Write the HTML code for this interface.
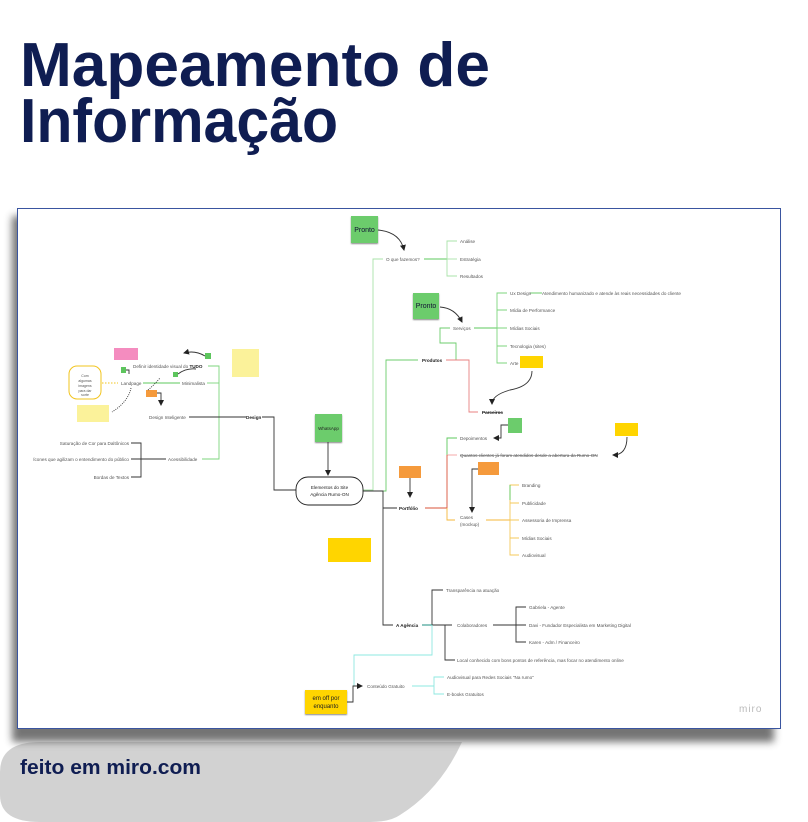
<!DOCTYPE html>
<html><head><meta charset="utf-8"><style>
html,body{margin:0;padding:0;background:#fff;width:808px;height:822px;overflow:hidden;font-family:"Liberation Sans",sans-serif}
svg{position:absolute;left:0;top:0}
</style></head><body>
<svg width="808" height="822" viewBox="0 0 808 822" xmlns="http://www.w3.org/2000/svg" font-family="Liberation Sans, sans-serif">
<defs>
<filter id="sh" x="-10%" y="-10%" width="120%" height="130%"><feGaussianBlur stdDeviation="4"/></filter>
<filter id="ss" x="-20%" y="-20%" width="140%" height="160%"><feGaussianBlur stdDeviation="0.8"/></filter>
<marker id="ar" markerWidth="6" markerHeight="6" refX="5" refY="3" orient="auto" markerUnits="userSpaceOnUse"><path d="M0,0 L6,3 L0,6Z" fill="#222"/></marker>
</defs>
<path d="M0,772 Q0,742 40,742 L462,742 Q440,790 400,815 Q390,822 370,822 L40,822 Q0,822 0,795Z" fill="#d2d2d2"/>
<text x="20" y="86" font-size="62" font-weight="bold" fill="#0f1d52" textLength="470" lengthAdjust="spacingAndGlyphs">Mapeamento de</text>
<text x="20" y="142" font-size="62" font-weight="bold" fill="#0f1d52" textLength="318" lengthAdjust="spacingAndGlyphs">Informação</text>
<text x="20" y="774" font-size="20" font-weight="bold" fill="#0f1d52" textLength="181" lengthAdjust="spacingAndGlyphs">feito em miro.com</text>
<rect x="12" y="216" width="762" height="526" fill="#666" filter="url(#sh)" opacity="0.9"/>
<rect x="17.5" y="208.5" width="763" height="520" fill="#fff" stroke="#3a55a0" stroke-width="1"/>
<g font-size="4.6" fill="#555">
<rect x="351" y="217" width="27" height="27" fill="#888" filter="url(#ss)"/>
<rect x="351" y="216" width="27" height="27" fill="#6ccc6c"/><text x="364.5" y="232" font-size="7" text-anchor="middle" fill="#113">Pronto</text>
<rect x="413" y="294" width="26" height="26" fill="#888" filter="url(#ss)"/>
<rect x="413" y="293" width="26" height="26" fill="#6ccc6c"/><text x="426" y="308" font-size="7" text-anchor="middle" fill="#113">Pronto</text>
<rect x="315" y="415" width="27" height="28" fill="#888" filter="url(#ss)"/>
<rect x="315" y="414" width="27" height="28" fill="#6ccc6c"/><text x="328.5" y="430" font-size="4.5" text-anchor="middle" fill="#222">WhatsApp</text>
<rect x="114" y="348" width="24" height="12" fill="#f48cbf"/>
<rect x="121" y="367" width="5" height="6" fill="#5dc55d"/>
<rect x="205" y="353" width="6" height="6" fill="#5dc55d"/>
<rect x="173" y="372" width="5" height="5" fill="#5dc55d"/>
<rect x="146" y="390" width="11" height="7" fill="#f59a3c"/>
<rect x="77" y="405" width="32" height="17" fill="#fbf29a"/>
<rect x="232" y="349" width="27" height="28" fill="#fbf29a"/>
<rect x="69" y="366" width="32" height="33" rx="8" fill="#fff" stroke="#f2c41e" stroke-width="1"/>
<text x="85" y="377" font-size="3.5" text-anchor="middle">Com</text><text x="85" y="382" font-size="3.5" text-anchor="middle">algumas</text><text x="85" y="387" font-size="3.5" text-anchor="middle">imagens</text><text x="85" y="392" font-size="3.5" text-anchor="middle">para dar</text><text x="85" y="396" font-size="3.5" text-anchor="middle">sorte</text>
<rect x="520" y="356" width="23" height="12" fill="#ffd500"/>
<rect x="508" y="418" width="14" height="15" fill="#6ccc6c"/>
<rect x="615" y="423" width="23" height="13" fill="#ffd500"/>
<rect x="399" y="466" width="22" height="12" fill="#f59a3c"/>
<rect x="478" y="462" width="21" height="13" fill="#f59a3c"/>
<rect x="328" y="538" width="43" height="24" fill="#ffd500"/>
<rect x="305" y="691" width="42" height="24" fill="#888" filter="url(#ss)"/>
<rect x="305" y="690" width="42" height="24" fill="#ffd500"/>
<text x="326" y="700" font-size="6" text-anchor="middle" fill="#222">em off por</text><text x="326" y="708" font-size="6" text-anchor="middle" fill="#222">enquanto</text>
<g fill="none" stroke-width="0.9">
<path d="M208,366 H219 V459 H202" stroke="#7cd67c"/>
<path d="M143,383 H180" stroke="#5cc85c"/>
<path d="M207,383 H219" stroke="#7cd67c"/>
<path d="M189,417 H246" stroke="#333"/>
<path d="M262,417 H274 V490 H296" stroke="#333"/>
<path d="M131,443 H141 V477 H131 M131,459 H166" stroke="#333"/>
<path d="M102,383 H118" stroke="#f2c41e" stroke-dasharray="1.5,1.5"/>
<path d="M131,388 Q128,402 112,412" stroke="#333" stroke-dasharray="1,1.2"/>
<path d="M148,390 Q154,385 160,378" stroke="#333" stroke-dasharray="1,1.2"/>
<path d="M157,393 H161 V405" stroke="#333" marker-end="url(#ar)"/>
<path d="M178,374 Q186,368 196,369" stroke="#333"/>
<path d="M205,356 Q195,350 184,353" stroke="#333" marker-end="url(#ar)"/>
<path d="M126,370 H129 V374" stroke="#333"/>
<path d="M363,490 H373 V259 H383" stroke="#a8e3a8"/>
<path d="M363,491 H386 V360 H418" stroke="#6ccc6c"/>
<path d="M424,259 H447" stroke="#5cc85c"/>
<path d="M457,241 H447 V276 H457" stroke="#a8e3a8"/>
<path d="M447,259 H457" stroke="#a8e3a8"/>
<path d="M378,230 Q400,232 404,250" stroke="#333" marker-end="url(#ar)"/>
<path d="M440,307 Q455,308 462,322" stroke="#333" marker-end="url(#ar)"/>
<path d="M474,328 H497" stroke="#5cc85c"/>
<path d="M507,293 H497 V363 H507 M497,310 H507 M497,328 H507 M497,346 H507" stroke="#7cd67c"/>
<path d="M530,293 H542" stroke="#5cc85c"/>
<path d="M450,328 H440 V343 H456 V360" stroke="#6ccc6c"/>
<path d="M446,360 H469 V412 H478" stroke="#e88080"/>
<path d="M532,371 Q532,386 510,390 Q492,395 492,404" stroke="#333" marker-end="url(#ar)"/>
<path d="M508,425 H501 V438 H494" stroke="#333" marker-end="url(#ar)"/>
<path d="M627,437 Q627,455 613,455" stroke="#333" marker-end="url(#ar)"/>
<path d="M457,438 H447 V455" stroke="#5cc85c"/>
<path d="M447,455 H457" stroke="#f3a0a0"/>
<path d="M447,455 V508 H425" stroke="#d9533a"/>
<path d="M447,508 V520 H455" stroke="#f4b73a"/>
<path d="M486,520 H510" stroke="#f4b73a"/>
<path d="M519,485 H510 V555 H519 M510,503 H519 M510,520 H519 M510,538 H519" stroke="#f4c85a"/>
<path d="M510,485 V500" stroke="#5cc85c"/>
<path d="M478,469 H472 V512" stroke="#333" marker-end="url(#ar)"/>
<path d="M410,478 V497" stroke="#333" marker-end="url(#ar)"/>
<path d="M328,442 V475" stroke="#333" marker-end="url(#ar)"/>
<path d="M363,491 H383 V625 H393 M383,508 H397" stroke="#333"/>
<path d="M422,625 H452 M443,590 H432 V625 M445,625 V660 H455" stroke="#333"/>
<path d="M422,625 H432" stroke="#1a9a8a"/>
<path d="M493,625 H516 M526,607 H516 V642 H526 M516,625 H526" stroke="#333"/>
<path d="M432,625 V655 H354 V686 H362" stroke="#8ee8e0"/>
<path d="M347,702 H353 V686 H362" stroke="#333" marker-end="url(#ar)"/>
<path d="M412,686 H434 M444,677 H434 V694 H444" stroke="#8ee8e0"/>
</g>
<rect x="296" y="477" width="67" height="28" rx="12" fill="#fff" stroke="#222" stroke-width="0.9"/>
<text x="329.5" y="489" text-anchor="middle" font-size="4.6" fill="#222">Elementos do Site</text>
<text x="329.5" y="496" text-anchor="middle" font-size="4.6" fill="#222">Agência Rumo-ON</text>
<text x="133" y="368">Definir identidade visual do <tspan font-weight="bold" fill="#222">TUDO</tspan></text>
<text x="121" y="385">Landpage</text>
<text x="182" y="385">Minimalista</text>
<text x="149" y="419">Design Inteligente</text>
<text x="246" y="419" font-weight="bold" fill="#222">Design</text>
<text x="129" y="445" text-anchor="end">Saturação de Cor para Daltônicos</text>
<text x="129" y="461" text-anchor="end">Ícones que agilizam o entendimento do público</text>
<text x="129" y="479" text-anchor="end">Bordas de Textos</text>
<text x="168" y="461">Acessibilidade</text>
<text x="386" y="261">O que fazemos?</text>
<text x="460" y="243">Análise</text>
<text x="460" y="261">Estratégia</text>
<text x="460" y="278">Resultados</text>
<text x="453" y="330">Serviços</text>
<text x="510" y="295">Ux Design</text>
<text x="542" y="295">Atendimento humanizado e atende às reais necessidades do cliente</text>
<text x="510" y="312">Mídia de Performance</text>
<text x="510" y="330">Mídias Sociais</text>
<text x="510" y="348">Tecnologia (sites)</text>
<text x="510" y="365">Arte</text>
<text x="422" y="362" font-weight="bold" fill="#222">Produtos</text>
<text x="482" y="414" font-weight="bold" fill="#222" text-decoration="line-through">Parceiros</text>
<text x="460" y="440">Depoimentos</text>
<text x="460" y="457" text-decoration="line-through">Quantos clientes já foram atendidos desde a abertura da Rumo-ON</text>
<text x="399" y="510" font-weight="bold" fill="#222">Portfólio</text>
<text x="460" y="519">Cases</text><text x="460" y="526">(mockup)</text>
<text x="522" y="487">Branding</text>
<text x="522" y="505">Publicidade</text>
<text x="522" y="522">Assessoria de Imprensa</text>
<text x="522" y="540">Mídias Sociais</text>
<text x="522" y="557">Audiovisual</text>
<text x="396" y="627" font-weight="bold" fill="#222">A Agência</text>
<text x="446" y="592">Transparência na atuação</text>
<text x="457" y="627">Colaboradores</text>
<text x="529" y="609">Gabriela - Agente</text>
<text x="529" y="627">Davi - Fundador Especialista em Marketing Digital</text>
<text x="529" y="644">Karen - Adm / Financeiro</text>
<text x="457" y="662">Local conhecido com bons pontos de referência, mas focar no atendimento online</text>
<text x="367" y="688">Conteúdo Gratuito</text>
<text x="447" y="679">Audiovisual para Redes Sociais "Na rumo"</text>
<text x="447" y="696">E-books Gratuitos</text>
<text x="739" y="712" font-size="10" fill="#bbb" letter-spacing="1">miro</text>
</g>
</svg>
</body></html>
